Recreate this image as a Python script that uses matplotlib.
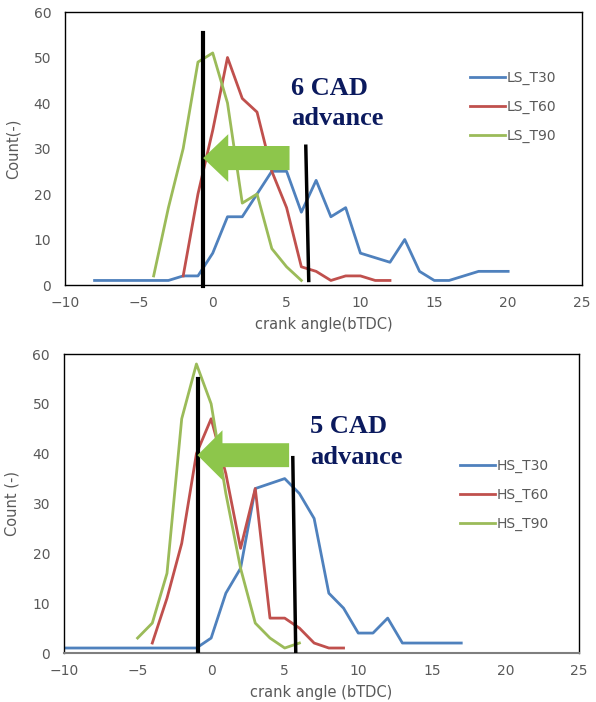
import matplotlib.pyplot as plt
from matplotlib.patches import FancyArrow

# Crank angle histograms (bTDC) for low-speed and high-speed runs
ls_t30_x = list(range(-8, 21))
ls_t30_y = [1, 1, 1, 1, 1, 1, 2, 2, 7, 15, 15, 20, 25, 25, 16, 23, 15, 17, 7, 6, 5, 10, 3, 1, 1, 2, 3, 3, 3]
ls_t60_x = list(range(-2, 13))
ls_t60_y = [2, 20, 34, 50, 41, 38, 25, 17, 4, 3, 1, 2, 2, 1, 1]
ls_t90_x = list(range(-4, 7))
ls_t90_y = [2, 17, 30, 49, 51, 40, 18, 20, 8, 4, 1]

hs_t30_x = list(range(-10, 18))
hs_t30_y = [1, 1, 1, 1, 1, 1, 1, 1, 1, 1, 3, 12, 17, 33, 34, 35, 32, 27, 12, 9, 4, 4, 7, 2, 2, 2, 2, 2]
hs_t60_x = list(range(-4, 10))
hs_t60_y = [2, 11, 22, 40, 47, 36, 21, 33, 7, 7, 5, 2, 1, 1]
hs_t90_x = list(range(-5, 7))
hs_t90_y = [3, 6, 16, 47, 58, 50, 32, 17, 6, 3, 1, 2]

ticks_x = [-10, -5, 0, 5, 10, 15, 20, 25]
ticks_y = [0, 10, 20, 30, 40, 50, 60]

BLUE, RED, GREEN = '#4f81bd', '#c0504d', '#9bbb59'
ARROW = '#8dc64b'
NAVY = '#0b1a5e'
GREY = '#595959'

fig = plt.figure(figsize=(5.96, 7.02), dpi=100)
ax1 = fig.add_axes([0.1091, 0.594, 0.8674, 0.3889])
ax2 = fig.add_axes([0.1074, 0.0698, 0.864, 0.4259])


def style_axes(ax, xlabel, ylabel):
    ax.set_xlim(-10, 25)
    ax.set_ylim(0, 60)
    ax.set_xticks(ticks_x)
    ax.set_yticks(ticks_y)
    ax.tick_params(length=0, labelsize=10, labelcolor=GREY, pad=8)
    ax.tick_params(axis='y', pad=10)
    for s in ax.spines.values():
        s.set_color('black')
        s.set_linewidth(1.0)
    ax.set_xlabel(xlabel, fontsize=10.5, color=GREY, labelpad=5)
    ax.set_ylabel(ylabel, fontsize=10.5, color=GREY, labelpad=9)


# --- low speed ---
ax1.plot(ls_t30_x, ls_t30_y, color=BLUE, lw=2, label='LS_T30')
ax1.plot(ls_t60_x, ls_t60_y, color=RED, lw=2, label='LS_T60')
ax1.plot(ls_t90_x, ls_t90_y, color=GREEN, lw=2, label='LS_T90')
style_axes(ax1, 'crank angle(bTDC)', 'Count(-)')

ax1.plot([-0.65, -0.65], [55.4, -0.3], color='black', lw=3, clip_on=False, zorder=5)
ax1.plot([6.3, 6.5], [30.5, 1.0], color='black', lw=2.5, zorder=5)
ax1.add_patch(FancyArrow(5.2, 27.9, -5.85, 0, width=5.3, head_width=10.5,
                         head_length=1.7, length_includes_head=True,
                         color=ARROW, lw=0, zorder=6))
ax1.text(5.3, 45.8, '6 CAD\nadvance', ha='left', va='top', fontsize=19,
         fontweight='bold', family='Liberation Serif', color=NAVY, linespacing=1.4)
ax1.legend(loc='upper left', bbox_to_anchor=(0.76, 0.83), frameon=False,
           fontsize=10, labelcolor=GREY, handlelength=2.5, handletextpad=0.1,
           labelspacing=1.05)

# --- high speed ---
ax2.plot(hs_t30_x, hs_t30_y, color=BLUE, lw=2, label='HS_T30')
ax2.plot(hs_t60_x, hs_t60_y, color=RED, lw=2, label='HS_T60')
ax2.plot(hs_t90_x, hs_t90_y, color=GREEN, lw=2, label='HS_T90')
style_axes(ax2, 'crank angle (bTDC)', 'Count (-)')
ax2.spines['bottom'].set_color('#7f7f7f')
ax2.spines['bottom'].set_linewidth(1.5)

ax2.plot([-0.9, -0.9], [55, 0], color='black', lw=3, zorder=5)
ax2.plot([5.55, 5.75], [39.2, 0.2], color='black', lw=2.5, zorder=5)
ax2.add_patch(FancyArrow(5.3, 39.7, -6.23, 0, width=4.8, head_width=10,
                         head_length=1.7, length_includes_head=True,
                         color=ARROW, lw=0, zorder=6))
ax2.text(6.7, 47.7, '5 CAD\nadvance', ha='left', va='top', fontsize=19,
         fontweight='bold', family='Liberation Serif', color=NAVY, linespacing=1.4)
ax2.legend(loc='upper left', bbox_to_anchor=(0.745, 0.69), frameon=False,
           fontsize=10, labelcolor=GREY, handlelength=2.5, handletextpad=0.1,
           labelspacing=1.05)

plt.savefig('out.png', dpi=100)
